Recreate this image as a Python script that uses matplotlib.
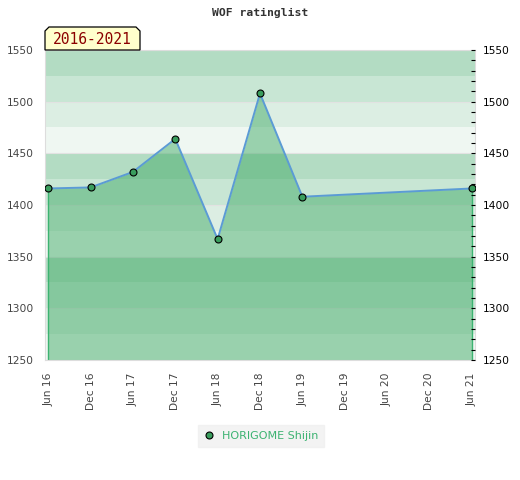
import numpy as np
import matplotlib
matplotlib.use("Agg")
import matplotlib.pyplot as plt
from matplotlib.patches import Polygon
from matplotlib.ticker import MultipleLocator

# Data
months = [0, 6, 12, 18, 24, 30, 36, 60]          # months since Jun 2016
ratings = [1416, 1417, 1432, 1464, 1367, 1508, 1408, 1416]
tick_pos = list(range(0, 61, 6))
tick_labels = ["Jun 16", "Dec 16", "Jun 17", "Dec 17", "Jun 18", "Dec 18",
               "Jun 19", "Dec 19", "Jun 20", "Dec 20", "Jun 21"]
player = "HORIGOME Shijin"
period = "2016-2021"
title = "WOF ratinglist"

ymin, ymax = 1250, 1550
band_colors = ["#b3dcc3", "#c8e6d4", "#dceee3", "#eff7f2"]

fig = plt.figure(figsize=(5.2, 4.8), dpi=100)
ax = fig.add_axes([45 / 520, 1 - 360 / 480, 430 / 520, 310 / 480])

# Background bands, 25 points each, top down
for i, top in enumerate(range(ymax, ymin, -25)):
    ax.axhspan(top - 25, top, color=band_colors[i % 4], lw=0, zorder=0)
for y in range(ymin, ymax + 1, 50):
    ax.axhline(y, color="#e2e2e2", lw=0.8, zorder=0.5)

ax.fill_between(months, ratings, ymin, color="#44ac69", alpha=0.5, lw=0, zorder=1)
ax.plot([months[0], months[0]], [ymin, ratings[0]], color="#3cb371", lw=1, zorder=2)
ax.plot([months[-1], months[-1]], [ymin, ratings[-1]], color="#3cb371", lw=1, zorder=2)
ax.plot(months, ratings, color="#5b9bd5", lw=1.4, zorder=3)
ax.plot(months, ratings, ls="none", marker="o", ms=5, mfc="#3a9d5d", mec="black",
        mew=0.8, zorder=4, label=player)

ax.set_xlim(-0.45, 60.45)
ax.set_ylim(ymin, ymax)
ax.set_xticks(tick_pos)
ax.set_xticklabels(tick_labels, rotation=90, fontsize=7.7, color="#444444")
ax.set_yticks(range(ymin, ymax + 1, 50))
ax.tick_params(axis="y", length=0, labelsize=7.7, labelcolor="#444444", pad=8)
ax.tick_params(axis="x", length=0, pad=9)
for s in ax.spines.values():
    s.set_color("#dddddd")

ax2 = ax.twinx()
ax2.set_ylim(ymin, ymax)
ax2.set_yticks(range(ymin, ymax + 1, 50))
ax2.yaxis.set_minor_locator(MultipleLocator(10))
ax2.tick_params(axis="y", which="both", direction="in", length=3, width=0.8,
                labelsize=7.7, labelcolor="black", pad=6)
for s in ax2.spines.values():
    s.set_visible(False)

fig.text(0.5, 1 - 13 / 480, title, ha="center", va="center", fontsize=8.2,
         family="DejaVu Sans Mono", fontweight="bold", color="#333333")

# Period label box with chamfered top corners
x0, x1 = 45 / 520, 140 / 520
y0, y1 = 1 - 50 / 480, 1 - 27 / 480
c = 4 / 520
cy = 4 / 480
box = Polygon([(x0, y0), (x0, y1 - cy), (x0 + c, y1), (x1 - c, y1), (x1, y1 - cy), (x1, y0)],
              closed=True, transform=fig.transFigure, facecolor="#ffffcc",
              edgecolor="black", lw=0.9, zorder=5)
fig.add_artist(box)
fig.text((x0 + x1) / 2, (y0 + y1) / 2 - 0.002, period, ha="center", va="center",
         fontsize=10.5, family="DejaVu Sans Mono", color="#8b0000", zorder=6)

leg = ax.legend(loc="center", bbox_to_anchor=(261 / 520, 1 - 436 / 480),
                bbox_transform=fig.transFigure, frameon=True, fontsize=8,
                handlelength=1, handletextpad=0.6, borderpad=0.5, fancybox=False)
leg.get_frame().set_facecolor("#f0f0f0")
leg.get_frame().set_edgecolor("#f0f0f0")
for t in leg.get_texts():
    t.set_color("#3cb371")

fig.savefig("out.png", dpi=100)
